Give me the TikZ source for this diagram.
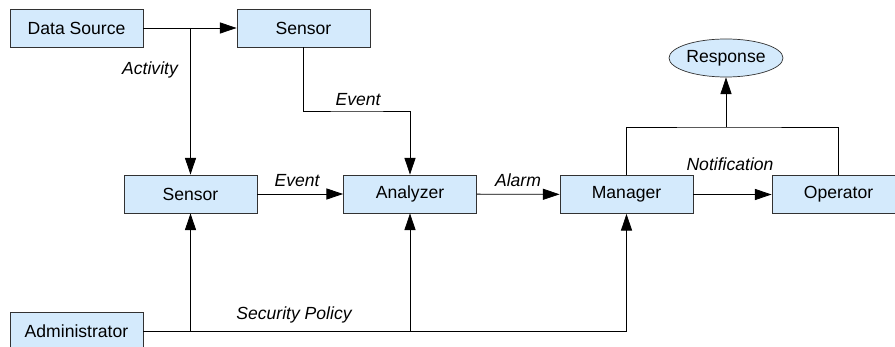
\documentclass[tikz,border=0pt]{standalone}
\usepackage{fontspec}
\setmainfont{Liberation Sans}
\usepackage{xcolor}
\usetikzlibrary{arrows.meta,shapes.geometric}
\definecolor{boxblue}{RGB}{212,234,252}
\definecolor{boxline}{RGB}{50,50,50}

\begin{document}
\begin{tikzpicture}[x=0.03cm,y=-0.03cm,font=\fontsize{15}{17}\selectfont,
  unit/.style={draw=boxline,fill=boxblue,line width=0.6pt,minimum width=3.99cm,minimum height=1.14cm,inner sep=0pt},
  result/.style={ellipse,draw=boxline,fill=boxblue,line width=0.6pt,minimum width=3.42cm,minimum height=1.14cm,inner sep=0pt},
  flow/.style={-{Triangle[length=0.5cm,width=0.33cm]},line width=0.7pt},
  tag/.style={font=\fontsize{15}{17}\selectfont\itshape}]
\useasboundingbox (0,0) rectangle (895,347);
\node[unit] (dsrc) at (76.5,28) {Data Source};
\node[unit] (sensA) at (303.5,28) {Sensor};
\node[unit] (sensB) at (190.5,194) {Sensor};
\node[unit] (anlz) at (410,194) {Analyzer};
\node[unit] (mgr) at (626.5,194.5) {Manager};
\node[unit] (oper) at (838.5,194.5) {Operator};
\node[unit] (admin) at (76.5,331) {Administrator};
\node[result] (resp) at (726,58) {Response};
\coordinate (ev) at (357,111);
\coordinate (brk) at (726,127);
\draw[flow] (dsrc) -- (sensA);
\draw[flow] (dsrc.east -| sensB) -- (sensB);
\draw[flow] (sensA.south) |- (ev) -| (anlz.north);
\draw[flow] (sensB) -- (anlz);
\draw[flow] (anlz) -- (mgr);
\draw[flow] (mgr) -- (oper);
\draw (mgr.north) |- (brk) -| (oper.north);
\draw[flow] (brk) -- (resp);
\draw[flow] (admin.east) -| (mgr.south);
\draw[flow] (admin.east -| sensB) -- (sensB);
\draw[flow] (admin.east -| anlz) -- (anlz);
\node[tag] (lact) at (150,70) {Activity};
\node[tag] (lev1) at (358,100) {Event};
\node[tag] (lev2) at (297,181) {Event};
\node[tag] (lalm) at (518,180) {Alarm};
\node[tag] (lnot) at (730,164) {Notification};
\node[tag] (lsec) at (294,315) {Security Policy};
\end{tikzpicture}
\end{document}
